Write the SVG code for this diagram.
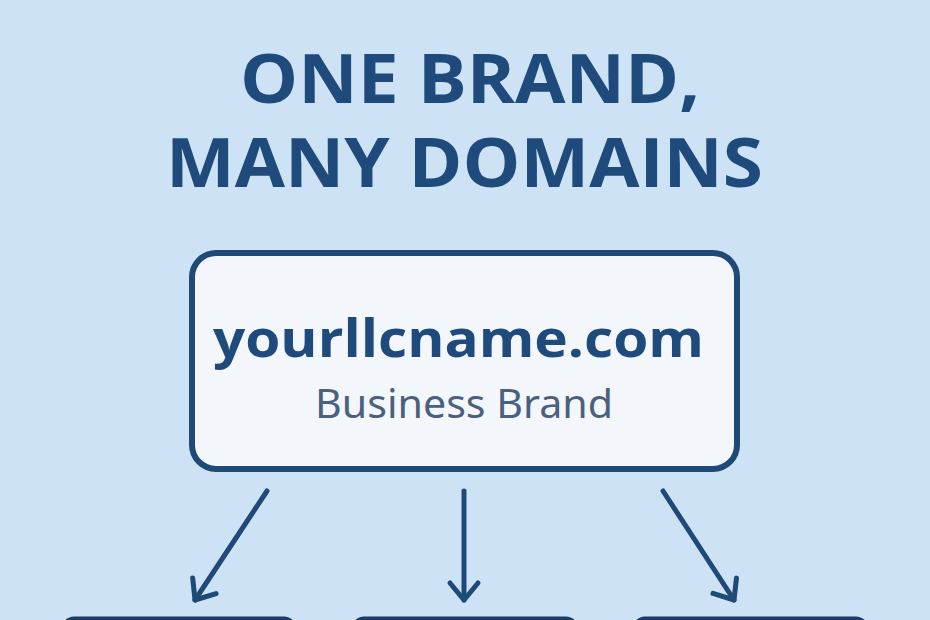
<svg xmlns="http://www.w3.org/2000/svg" width="930" height="620" viewBox="0 0 930 620">
  <defs>
    <style>
      .title { font-family: "Open Sans", "Noto Sans", "Liberation Sans", sans-serif; font-weight: 700; font-size: 68px; fill: #1e4b7c; }
      .domain { font-family: "Open Sans", "Noto Sans", "Liberation Sans", sans-serif; font-weight: 700; font-size: 52px; fill: #1e4b7c; }
      .sub { font-family: "Noto Sans", "Open Sans", "Liberation Sans", sans-serif; font-weight: 400; font-size: 40px; fill: #4b607f; }
      .box { fill: #f3f7fb; stroke: #1f4a78; stroke-width: 6; }
      .child { fill: #f3f7fb; stroke: #1a3d66; stroke-width: 5; }
      .conn { fill: none; stroke: #1f4a78; stroke-width: 5; stroke-linecap: round; }
    </style>
    <marker id="arrow" markerUnits="userSpaceOnUse" viewBox="-22 -18 26 36" markerWidth="26" markerHeight="36" refX="0" refY="0" orient="auto">
      <path d="M-17,-14 L0,0 L-17,14" fill="none" stroke="#1f4a78" stroke-width="5" stroke-linecap="round" stroke-linejoin="round"/>
    </marker>
  </defs>
  <rect x="0" y="0" width="930" height="620" fill="#cde3f5"/>
  <g id="title">
    <text class="title" x="240" y="103" textLength="460" lengthAdjust="spacingAndGlyphs">ONE BRAND,</text>
    <text class="title" x="166" y="187" textLength="597" lengthAdjust="spacingAndGlyphs">MANY DOMAINS</text>
  </g>
  <g id="main-node">
    <rect class="box" x="192" y="253" width="545" height="216" rx="24"/>
    <text class="domain" x="213" y="357" textLength="491" lengthAdjust="spacingAndGlyphs">yourllcname.com</text>
    <text class="sub" x="315" y="418" textLength="298" lengthAdjust="spacingAndGlyphs">Business Brand</text>
  </g>
  <g id="connectors">
    <line class="conn" x1="267" y1="491" x2="195" y2="600" marker-end="url(#arrow)"/>
    <line class="conn" x1="464" y1="491" x2="464" y2="600" marker-end="url(#arrow)"/>
    <line class="conn" x1="663" y1="491" x2="734" y2="600" marker-end="url(#arrow)"/>
  </g>
  <g id="domain-left">
    <rect class="child" x="64" y="619" width="230" height="60" rx="10"/>
  </g>
  <g id="domain-middle">
    <rect class="child" x="354" y="619" width="222" height="60" rx="10"/>
  </g>
  <g id="domain-right">
    <rect class="child" x="635" y="619" width="231" height="60" rx="10"/>
  </g>
</svg>
